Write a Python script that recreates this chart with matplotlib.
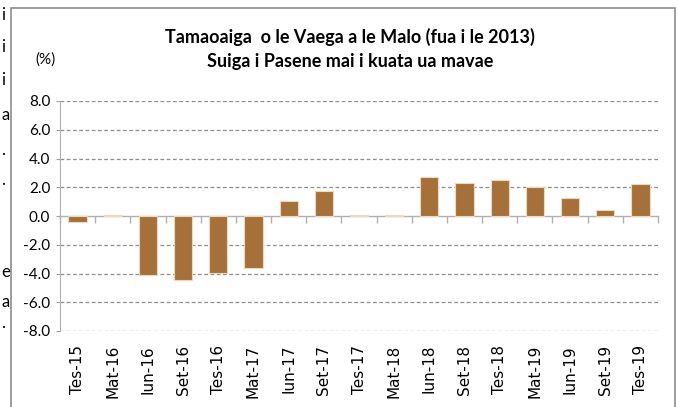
import matplotlib.pyplot as plt
from matplotlib.patches import Rectangle

# quarters and annual % change
quarters = ['Tes-15', 'Mat-16', 'Iun-16', 'Set-16', 'Tes-16', 'Mat-17', 'Iun-17', 'Set-17',
            'Tes-17', 'Mat-18', 'Iun-18', 'Set-18', 'Tes-18', 'Mat-19', 'Iun-19', 'Set-19', 'Tes-19']
values = [-0.4, 0.05, -4.1, -4.45, -3.95, -3.65, 1.05, 1.75,
          0.05, 0.05, 2.7, 2.3, 2.5, 2.0, 1.25, 0.4, 2.2]
yticks = [-8.0, -6.0, -4.0, -2.0, 0.0, 2.0, 4.0, 6.0, 8.0]

# stray letters from the surrounding page, cut off at the left edge
margin_chars = ['i', 'i', 'i', 'a', '.', '.', 'e', 'a', '.']
margin_y = [15, 47, 80, 115, 150, 180, 272, 302, 323]

plt.rcParams['font.family'] = ['Lato', 'DejaVu Sans']

fig = plt.figure(figsize=(6.78, 4.07), dpi=100)
W, H = 678, 407

# outer chart box
fig.patches.append(Rectangle((11 / W, -0.01), (675 - 11) / W, 1 - 8 / H + 0.01,
                             transform=fig.transFigure, fill=False,
                             edgecolor='#8c8c8c', linewidth=1.2))
for ch, yy in zip(margin_chars, margin_y):
    fig.text(1 / W, 1 - yy / H, ch, fontsize=12, va='center', ha='left')

ax = fig.add_axes([60 / W, 1 - 331 / H, (658 - 60) / W, (331 - 101) / H])
x = list(range(len(quarters)))
ax.bar(x, values, width=0.52, color='#a5703a', edgecolor='#f0d8bc', linewidth=0.8, zorder=3)

ax.set_xlim(-0.5, len(quarters) - 0.5)
ax.set_ylim(-8, 8)
ax.set_yticks(yticks)
ax.set_yticklabels([f'{v:.1f}' for v in yticks], fontsize=11)
for v in yticks:
    if v != 0:
        ax.axhline(v, color='#8c8c8c', linestyle=(0, (3, 2)), linewidth=0.9, zorder=1)

ax.set_xticks(x)
ax.set_xticklabels(quarters, rotation=90, fontsize=11, family='DejaVu Sans')
ax.tick_params(axis='x', length=0, pad=10)
ax.tick_params(axis='y', length=3, color='#a0a0a0', pad=4)

for s in ['top', 'right', 'bottom']:
    ax.spines[s].set_visible(False)
ax.spines['left'].set_color('#b0b0b0')

# zero line with category separators
sec = ax.secondary_xaxis(0.5)
sec.xaxis.set_ticks_position('bottom')
sec.set_xticks([i - 0.5 for i in range(len(quarters) + 1)])
sec.set_xticklabels([])
sec.tick_params(axis='x', direction='out', length=5, width=1.0, color='#b0b0b0')
for s in sec.spines.values():
    s.set_color('#b0b0b0')
    s.set_linewidth(1.0)

fig.text(350 / W, 1 - 37 / H, 'Tamaoaiga  o le Vaega a le Malo (fua i le 2013)',
         ha='center', va='center', fontsize=13, fontweight='bold')
fig.text(350 / W, 1 - 62 / H, 'Suiga i Pasene mai i kuata ua mavae',
         ha='center', va='center', fontsize=13, fontweight='bold')
fig.text(45 / W, 1 - 60 / H, '(%)', ha='center', va='center', fontsize=11)

fig.savefig('out.png', dpi=100)
